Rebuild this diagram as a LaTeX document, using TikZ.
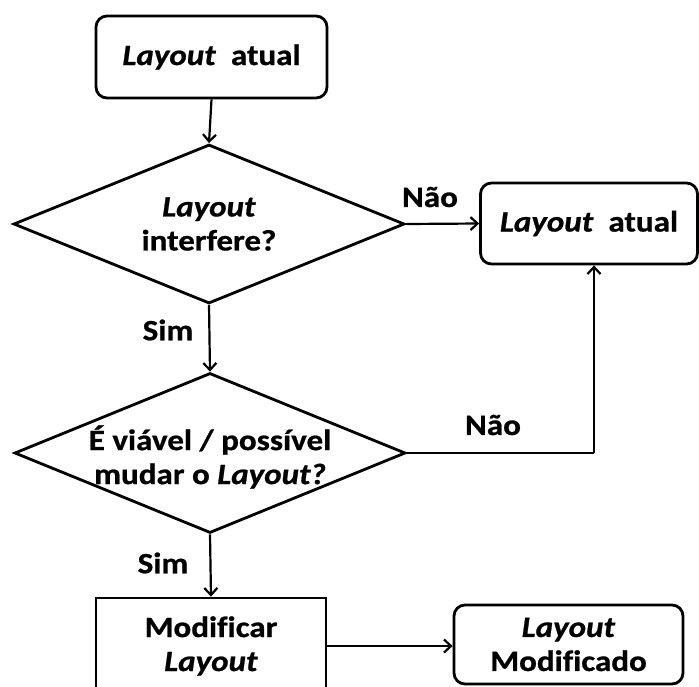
\documentclass[tikz,border=0pt]{standalone}
\usepackage{fontspec}
\setmainfont[FakeStretch=1.12, Ligatures={NoCommon}, BoldFeatures={FakeBold=0.8}, BoldItalicFeatures={FakeBold=0.8}]{Carlito}
\usetikzlibrary{shapes.geometric,arrows.meta}
\tikzset{
  base/.style={font=\fontsize{29.5}{34}\selectfont\bfseries, align=center, inner sep=0pt},
  rbox/.style={base, draw, line width=2.8pt, rounded corners=11pt},
  sbox/.style={base, draw, line width=2.8pt},
  dia/.style={draw, diamond, line width=2.8pt, inner sep=0pt, aspect=2.45},
  conn/.style={line width=2.2pt, -{Straight Barb[length=7pt,width=13pt,line width=2.2pt]}},
  plain/.style={line width=2.2pt},
  lbl/.style={base}
}
\begin{document}
\begin{tikzpicture}[x=1pt,y=-1pt]
\useasboundingbox (0,0) rectangle (699,686);
\clip (0,0) rectangle (699,686);
\node[rbox, minimum width=231pt, minimum height=82pt] (top) at (211.5,57) {\textit{Layout} \ atual};
\node[dia, minimum width=391pt, minimum height=159pt,
      label={[base]center:{\textit{Layout}\\interfere?}}] (d1) at (209,224) {};
\node[rbox, minimum width=217pt, minimum height=81pt] (r1) at (589,223.5) {\textit{Layout} \ atual};
\node[dia, minimum width=391pt, minimum height=160pt,
      label={[base, yshift=-4pt]center:{É viável / possível\\mudar o \textit{Layout?}}}] (d2) at (210,453) {};
\node[sbox, minimum width=230pt, minimum height=96pt] (mod) at (211,646) {Modificar\\\textit{Layout}};
\node[rbox, minimum width=229pt, minimum height=79pt] (rm) at (568.5,644.5) {\textit{Layout}\\Modificado};

\node[lbl] (nao1) at (430,197) {Não};
\node[lbl] (sim1) at (168,330) {Sim};
\node[lbl] (nao2) at (493,425) {Não};
\node[lbl] (sim2) at (163,563) {Sim};

\coordinate (up) at ([xshift=5pt]r1.south);
\draw[conn] (top.south) -- (d1.north);
\draw[conn] (d1.east) -- (r1.west);
\draw[conn] (d1.south) -- (d2.north);
\draw[plain] (d2.east) -| (up |- d2.east);
\draw[conn] (up |- d2.east) -- (up);
\draw[conn] (d2.south) -- (mod.north);
\draw[conn] (mod.east) -- (mod.east -| rm.west);
\end{tikzpicture}
\end{document}
